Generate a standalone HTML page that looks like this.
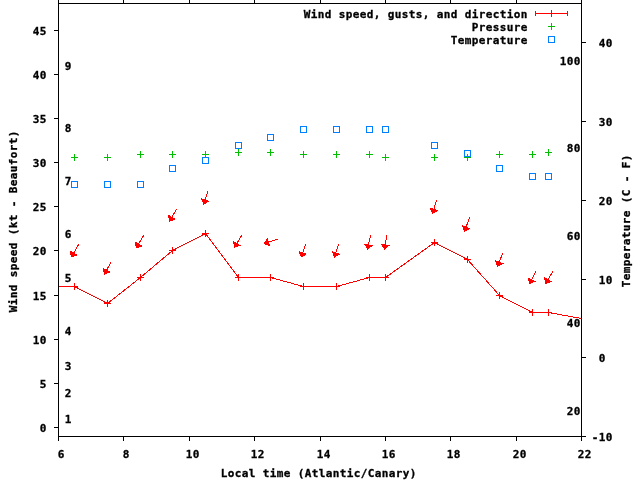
<!DOCTYPE html>
<html lang="en"><head><meta charset="utf-8"><title>Wind speed, gusts, and direction</title>
<style>html,body{margin:0;padding:0;background:#fff;overflow:hidden}svg{display:block}text{font-family:"DejaVu Sans Mono","Liberation Mono",monospace;font-weight:bold;font-size:11px;letter-spacing:0.3775px;fill:#000;stroke:#000;stroke-width:0.3px}</style></head><body>
<svg width="640" height="480" viewBox="0 0 640 480">
<rect width="640" height="480" fill="#fff"/>
<path d="M58 3.5H582M58 436.5H582M58.5 3V437M581.5 3V437M58.5 436V441M58.5 0V4M123.5 436V441M123.5 0V4M189.5 436V441M189.5 0V4M254.5 436V441M254.5 0V4M320.5 436V441M320.5 0V4M385.5 436V441M385.5 0V4M450.5 436V441M450.5 0V4M516.5 436V441M516.5 0V4M581.5 436V441M581.5 0V4M54 427.5H59M54 383.5H59M54 339.5H59M54 295.5H59M54 250.5H59M54 206.5H59M54 162.5H59M54 118.5H59M54 74.5H59M54 30.5H59M581 436.5H586M581 357.5H586M581 279.5H586M581 200.5H586M581 121.5H586M581 42.5H586" stroke="#000" stroke-width="1" fill="none" shape-rendering="crispEdges"/>
<g>
<text x="39.7" y="432" text-anchor="start">0</text>
<text x="39.7" y="388" text-anchor="start">5</text>
<text x="32.7" y="344" text-anchor="start">10</text>
<text x="32.7" y="300" text-anchor="start">15</text>
<text x="32.7" y="255" text-anchor="start">20</text>
<text x="32.7" y="211" text-anchor="start">25</text>
<text x="32.7" y="167" text-anchor="start">30</text>
<text x="32.7" y="123" text-anchor="start">35</text>
<text x="32.7" y="79" text-anchor="start">40</text>
<text x="32.7" y="35" text-anchor="start">45</text>
<text x="591.7" y="441" text-anchor="start">-10</text>
<text x="598.7" y="362" text-anchor="start">0</text>
<text x="598.7" y="284" text-anchor="start">10</text>
<text x="598.7" y="205" text-anchor="start">20</text>
<text x="598.7" y="126" text-anchor="start">30</text>
<text x="598.7" y="47" text-anchor="start">40</text>
<text x="57.7" y="458" text-anchor="start">6</text>
<text x="122.7" y="458" text-anchor="start">8</text>
<text x="185.7" y="458" text-anchor="start">10</text>
<text x="250.7" y="458" text-anchor="start">12</text>
<text x="316.7" y="458" text-anchor="start">14</text>
<text x="381.7" y="458" text-anchor="start">16</text>
<text x="446.7" y="458" text-anchor="start">18</text>
<text x="512.7" y="458" text-anchor="start">20</text>
<text x="577.7" y="458" text-anchor="start">22</text>
<text x="64.7" y="423" text-anchor="start">1</text>
<text x="64.7" y="397" text-anchor="start">2</text>
<text x="64.7" y="370" text-anchor="start">3</text>
<text x="64.7" y="335" text-anchor="start">4</text>
<text x="64.7" y="282" text-anchor="start">5</text>
<text x="64.7" y="238" text-anchor="start">6</text>
<text x="64.7" y="185" text-anchor="start">7</text>
<text x="64.7" y="132" text-anchor="start">8</text>
<text x="64.7" y="70" text-anchor="start">9</text>
<text x="566.7" y="415" text-anchor="start">20</text>
<text x="566.7" y="327" text-anchor="start">40</text>
<text x="566.7" y="240" text-anchor="start">60</text>
<text x="566.7" y="152" text-anchor="start">80</text>
<text x="559.7" y="65" text-anchor="start">100</text>
<text x="220.7" y="477" text-anchor="start">Local time (Atlantic/Canary)</text>
<text transform="translate(17 312.3) rotate(-90)">Wind speed (kt - Beaufort)</text>
<text transform="translate(630 287.3) rotate(-90)">Temperature (C - F)</text>
<text x="303.7" y="18" text-anchor="start">Wind speed, gusts, and direction</text>
<text x="471.7" y="31" text-anchor="start">Pressure</text>
<text x="450.7" y="44" text-anchor="start">Temperature</text>
</g>
<g stroke="#ff0000" fill="none" stroke-width="1" shape-rendering="crispEdges">
<polyline points="58.5,286.5 74.5,286.5 107.5,303.5 140.5,277.5 172.5,250.5 205.5,233.5 238.5,277.5 270.5,277.5 303.5,286.5 336.5,286.5 369.5,277.5 385.5,277.5 434.5,242.5 467.5,259.5 499.5,295.5 532.5,312.5 548.5,312.5 581.5,318.5"/>
<path d="M71 286.5H78M74.5 283V290M104 303.5H111M107.5 300V307M137 277.5H144M140.5 274V281M169 250.5H176M172.5 247V254M202 233.5H209M205.5 230V237M235 277.5H242M238.5 274V281M267 277.5H274M270.5 274V281M300 286.5H307M303.5 283V290M333 286.5H340M336.5 283V290M366 277.5H373M369.5 274V281M382 277.5H389M385.5 274V281M431 242.5H438M434.5 239V246M464 259.5H471M467.5 256V263M496 295.5H503M499.5 292V299M529 312.5H536M532.5 309V316M545 312.5H552M548.5 309V316"/>
<path d="M535 13.5H568M535.5 11V16M567.5 11V16M548 13.5H555M551.5 10V17"/>
</g>
<g stroke="#ff0000" fill="#ff0000" stroke-width="1" shape-rendering="crispEdges" stroke-linejoin="miter">
<path d="M78.85 244.26L71.40 256.74" fill="none"/>
<path d="M71.40 256.74L70.43 251.15L76.78 254.94Z"/>
<path d="M110.76 262.37L104.54 274.13" fill="none"/>
<path d="M104.54 274.13L103.28 268.60L109.82 272.06Z"/>
<path d="M143.60 235.51L136.40 247.84" fill="none"/>
<path d="M136.40 247.84L135.37 242.26L141.76 245.99Z"/>
<path d="M176.45 209.26L169.55 220.99" fill="none"/>
<path d="M169.55 220.99L168.54 215.41L174.92 219.16Z"/>
<path d="M207.66 191.54L203.84 204.11" fill="none"/>
<path d="M203.84 204.11L201.55 198.92L208.63 201.08Z"/>
<path d="M241.75 235.26L234.55 247.24" fill="none"/>
<path d="M234.55 247.24L233.59 241.65L239.94 245.46Z"/>
<path d="M277.47 239.20L264.28 243.65" fill="none"/>
<path d="M264.28 243.65L267.17 238.77L269.54 245.78Z"/>
<path d="M305.51 244.38L301.34 256.97" fill="none"/>
<path d="M301.34 256.97L299.18 251.72L306.21 254.04Z"/>
<path d="M338.66 244.38L334.49 256.97" fill="none"/>
<path d="M334.49 256.97L332.33 251.72L339.36 254.04Z"/>
<path d="M370.54 235.29L367.56 249.11" fill="none"/>
<path d="M367.56 249.11L364.85 244.12L372.09 245.68Z"/>
<path d="M386.85 235.30L384.45 249.10" fill="none"/>
<path d="M384.45 249.10L381.54 244.23L388.83 245.50Z"/>
<path d="M436.51 200.29L432.59 213.46" fill="none"/>
<path d="M432.59 213.46L430.27 208.28L437.36 210.40Z"/>
<path d="M469.65 217.38L464.50 231.22" fill="none"/>
<path d="M464.50 231.22L462.53 225.90L469.47 228.48Z"/>
<path d="M502.64 253.38L497.61 266.22" fill="none"/>
<path d="M497.61 266.22L495.73 260.87L502.62 263.57Z"/>
<path d="M535.76 271.52L529.54 283.48" fill="none"/>
<path d="M529.54 283.48L528.24 277.96L534.80 281.38Z"/>
<path d="M552.75 271.51L545.75 283.49" fill="none"/>
<path d="M545.75 283.49L544.72 277.91L551.11 281.64Z"/>
</g>
<path d="M71 157.5H78M74.5 154V161M104 157.5H111M107.5 154V161M137 154.5H144M140.5 151V158M169 154.5H176M172.5 151V158M202 154.5H209M205.5 151V158M235 152.5H242M238.5 149V156M267 152.5H274M270.5 149V156M300 154.5H307M303.5 151V158M333 154.5H340M336.5 151V158M366 154.5H373M369.5 151V158M382 157.5H389M385.5 154V161M431 157.5H438M434.5 154V161M464 157.5H471M467.5 154V161M496 154.5H503M499.5 151V158M529 154.5H536M532.5 151V158M545 152.5H552M548.5 149V156M548 26.5H555M551.5 23V30" stroke="#00c000" stroke-width="1" fill="none" shape-rendering="crispEdges"/>
<path d="M71.5 181.5h6v6h-6zM104.5 181.5h6v6h-6zM137.5 181.5h6v6h-6zM169.5 165.5h6v6h-6zM202.5 157.5h6v6h-6zM235.5 142.5h6v6h-6zM267.5 134.5h6v6h-6zM300.5 126.5h6v6h-6zM333.5 126.5h6v6h-6zM366.5 126.5h6v6h-6zM382.5 126.5h6v6h-6zM431.5 142.5h6v6h-6zM464.5 150.5h6v6h-6zM496.5 165.5h6v6h-6zM529.5 173.5h6v6h-6zM545.5 173.5h6v6h-6zM548.5 36.5h6v6h-6z" stroke="#0080ff" stroke-width="1" fill="none" shape-rendering="crispEdges"/>
</svg></body></html>
